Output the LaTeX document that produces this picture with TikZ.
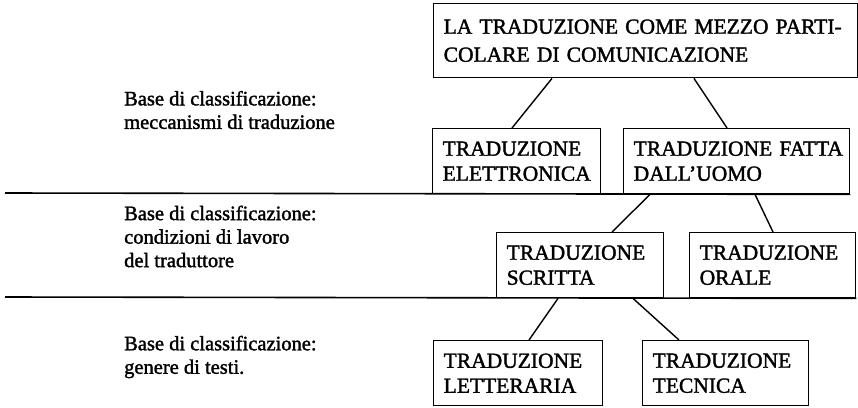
\documentclass[tikz,border=0pt]{standalone}
\usepackage{fontspec}
\setmainfont[FakeBold=1.6]{Liberation Serif}
\begin{document}
\begin{tikzpicture}[x=1pt,y=-1pt,
  cat/.style={draw,line width=1.4pt,anchor=north west,inner xsep=10pt,inner ysep=0pt,
    align=left,font=\fontsize{21.5}{25}\selectfont},
  basis/.style={anchor=west,align=left,inner sep=0pt,font=\fontsize{20.5}{23.5}\selectfont},
  conn/.style={line width=1.4pt},
  sep/.style={line width=1.6pt}]
\useasboundingbox (0,0) rectangle (858,407);
% boxes
\node[cat,minimum width=424pt,minimum height=74pt,text width=404pt,font=\fontsize{21.5}{28}\selectfont] (top) at (433,3)
  {LA TRADUZIONE COME MEZZO PARTI-\\COLARE DI COMUNICAZIONE};
\node[cat,minimum width=168pt,minimum height=65pt,text width=148pt] (elet) at (432,128)
  {TRADUZIONE\\ELETTRONICA};
\node[cat,minimum width=226pt,minimum height=65pt,text width=206pt] (uomo) at (623,128)
  {TRADUZIONE~FATTA\\DALL’UOMO};
\node[cat,minimum width=167pt,minimum height=65pt,text width=147pt] (scritta) at (496,232)
  {TRADUZIONE\\SCRITTA};
\node[cat,minimum width=166pt,minimum height=65pt,text width=146pt] (orale) at (689,232)
  {TRADUZIONE\\ORALE};
\node[cat,minimum width=169pt,minimum height=65pt,text width=149pt] (lett) at (433,340)
  {TRADUZIONE\\LETTERARIA};
\node[cat,minimum width=166pt,minimum height=65pt,text width=146pt] (tec) at (642,340)
  {TRADUZIONE\\TECNICA};
% separator lines
\coordinate (s1) at (5,193);
\coordinate (s2) at (5,297);
\draw[sep] (s1) -- (uomo.south east);
\draw[sep] (s2) -- (orale.south east);
% connectors
\draw[conn] ([xshift=119pt]top.south west) -- ([xshift=80pt]elet.north west);
\draw[conn] ([xshift=261pt]top.south west) -- ([xshift=104pt]uomo.north west);
\draw[conn] ([xshift=27pt]uomo.south west) -- ([xshift=116pt]scritta.north west);
\draw[conn] ([xshift=132pt]uomo.south west) -- ([xshift=84pt]orale.north west);
\draw[conn] ([xshift=62pt]scritta.south west) -- ([xshift=96pt]lett.north west);
\draw[conn] ([xshift=137pt]scritta.south west) -- ([xshift=37pt]tec.north west);
% basis labels
\node[basis] (b1) at (124,110) {Base di classificazione:\\meccanismi di traduzione};
\node[basis] (b2) at (124,236.5) {Base di classificazione:\\condizioni di lavoro\\del traduttore};
\node[basis] (b3) at (124,357) {Base di classificazione:\\genere di testi.};
\end{tikzpicture}
\end{document}
